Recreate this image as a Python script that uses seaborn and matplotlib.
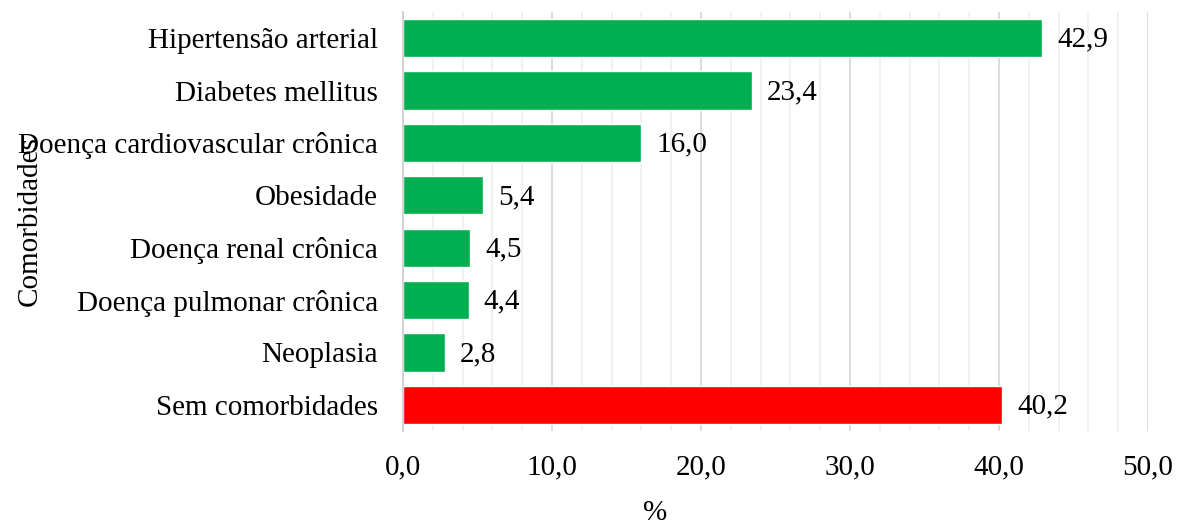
import pandas as pd
import matplotlib
matplotlib.use("Agg")
import matplotlib.pyplot as plt
import seaborn as sns
from matplotlib.ticker import MultipleLocator, FuncFormatter

# Comorbidity prevalence (%)
categorias = [
    "Hipertensão arterial",
    "Diabetes mellitus",
    "Doença cardiovascular crônica",
    "Obesidade",
    "Doença renal crônica",
    "Doença pulmonar crônica",
    "Neoplasia",
    "Sem comorbidades",
]
valores = [42.9, 23.4, 16.0, 5.4, 4.5, 4.4, 2.8, 40.2]
cores = ["#00B050"] * 7 + ["#FF0000"]

df = pd.DataFrame({"cat": categorias, "val": valores})

sns.set_theme(style="white")
plt.rcParams["font.family"] = ["Liberation Serif", "DejaVu Serif"]
plt.rcParams["text.color"] = "black"
plt.rcParams["axes.labelcolor"] = "black"
plt.rcParams["xtick.color"] = "black"
plt.rcParams["ytick.color"] = "black"

fs = 21

fig = plt.figure(figsize=(11.81, 5.25), dpi=100)
ax = fig.add_axes([403 / 1181, 1 - 431 / 525, (1148 - 403) / 1181, (431 - 12) / 525])

sns.barplot(
    data=df, x="val", y="cat", hue="cat", palette=cores, order=categorias,
    hue_order=categorias, legend=False, width=0.73, saturation=1, ax=ax,
)

ax.set_xlim(0, 50)
ax.xaxis.set_major_locator(MultipleLocator(10))
ax.xaxis.set_minor_locator(MultipleLocator(2))
ax.xaxis.set_major_formatter(FuncFormatter(lambda v, p: f"{v:.1f}".replace(".", ",")))
ax.grid(axis="x", which="major", color="#d9d9d9", linewidth=1.3, zorder=0)
ax.grid(axis="x", which="minor", color="#f0f0f0", linewidth=1.3, zorder=0)
ax.set_axisbelow(True)
for s in ["top", "right", "bottom"]:
    ax.spines[s].set_visible(False)
ax.spines["left"].set_color("#d0d0d0")
ax.spines["left"].set_linewidth(1.3)
ax.tick_params(axis="x", which="both", length=0, labelsize=fs, pad=17)
ax.tick_params(axis="y", length=0, labelsize=fs, pad=18)

for p, v in zip(ax.patches, valores):
    ax.text(v + 1.0, p.get_y() + p.get_height() / 2 + 0.03, f"{v:.1f}".replace(".", ","),
            va="center", ha="left", fontsize=fs, color="black")

ax.set_xlabel("%", fontsize=fs)
ax.xaxis.set_label_coords((655 - 403) / (1148 - 403), -0.165)
ax.set_ylabel("Comorbidades", fontsize=fs)
ax.yaxis.set_label_coords(-(403 - 43) / (1148 - 403), 0.5)

fig.savefig("out.png", dpi=100)
